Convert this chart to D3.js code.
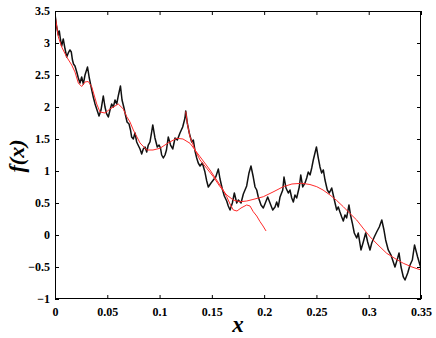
<!DOCTYPE html>
<html><head><meta charset="utf-8">
<script src="https://cdn.jsdelivr.net/npm/d3@7"></script>
<style>body{margin:0;background:#fff}svg{display:block}
.lbl{font-family:"Liberation Serif","DejaVu Serif",serif;font-weight:bold;fill:#000}</style>
</head><body>
<svg id="c" width="436" height="338"></svg>
<script>
// Black fractal curve f(x)
const blackX = [0,0.0016,0.0032,0.0041,0.0053,0.0064,0.0079,0.0096,0.0112,0.0127,0.0143,0.0156,0.0167,0.0177,0.0191,0.0208,0.0223,0.0239,0.0255,0.0271,0.0287,0.0311,0.0328,0.0351,0.0366,0.0383,0.0405,0.0421,0.0440,0.0462,0.0478,0.0494,0.0510,0.0526,0.0542,0.0558,0.0574,0.0590,0.0607,0.0626,0.0641,0.0660,0.0674,0.0689,0.0708,0.0722,0.0733,0.0749,0.0765,0.0781,0.0799,0.0813,0.0829,0.0844,0.0861,0.0877,0.0892,0.0908,0.0923,0.0935,0.0956,0.0978,0.0995,0.1009,0.1020,0.1036,0.1052,0.1066,0.1083,0.1105,0.1126,0.1148,0.1170,0.1195,0.1221,0.1243,0.1250,0.1265,0.1284,0.1307,0.1323,0.1339,0.1355,0.1370,0.1387,0.1409,0.1434,0.1451,0.1466,0.1492,0.1514,0.1537,0.1562,0.1578,0.1600,0.1619,0.1642,0.1657,0.1674,0.1696,0.1715,0.1738,0.1753,0.1779,0.1801,0.1817,0.1833,0.1855,0.1874,0.1896,0.1913,0.1929,0.1944,0.1970,0.1992,0.2015,0.2034,0.2056,0.2082,0.2104,0.2120,0.2135,0.2152,0.2178,0.2190,0.2209,0.2231,0.2247,0.2264,0.2279,0.2295,0.2311,0.2336,0.2350,0.2369,0.2391,0.2407,0.2422,0.2439,0.2455,0.2470,0.2486,0.2500,0.2518,0.2534,0.2550,0.2566,0.2582,0.2604,0.2623,0.2646,0.2661,0.2678,0.2694,0.2709,0.2725,0.2742,0.2757,0.2773,0.2789,0.2811,0.2826,0.2843,0.2862,0.2885,0.2900,0.2926,0.2948,0.2971,0.2990,0.3012,0.3029,0.3053,0.3076,0.3101,0.3125,0.3146,0.3162,0.3187,0.3213,0.3235,0.3251,0.3277,0.3290,0.3309,0.3331,0.3347,0.3373,0.3395,0.3417,0.3438,0.3468,0.3490,0.3500];
const blackY = [3.45,3.25,3.125,3.188,3.047,2.953,3.063,2.906,2.781,2.844,2.891,2.859,2.734,2.672,2.641,2.547,2.453,2.375,2.469,2.359,2.5,2.625,2.453,2.266,2.156,2.047,1.938,1.859,1.953,2.172,2.0,1.891,1.844,1.953,2.047,2.0,2.109,2.047,2.188,2.328,2.109,1.984,1.875,1.766,1.734,1.641,1.531,1.5,1.594,1.453,1.391,1.344,1.266,1.344,1.375,1.297,1.406,1.453,1.594,1.719,1.516,1.375,1.406,1.359,1.25,1.203,1.25,1.328,1.531,1.406,1.344,1.516,1.484,1.594,1.688,1.828,1.938,1.75,1.594,1.453,1.484,1.313,1.203,1.125,1.078,1.125,0.984,0.844,0.75,0.813,0.859,0.906,1.031,0.875,0.719,0.609,0.531,0.453,0.391,0.5,0.656,0.5,0.547,0.5,0.641,0.703,0.766,0.969,1.078,0.906,0.75,0.703,0.594,0.469,0.422,0.516,0.594,0.5,0.391,0.438,0.516,0.438,0.594,0.703,0.906,0.734,0.656,0.703,0.578,0.516,0.625,0.578,0.75,0.938,0.75,0.813,0.891,0.984,0.938,1.047,1.172,1.281,1.375,1.203,1.063,0.969,1.016,0.859,0.703,0.656,0.734,0.625,0.5,0.391,0.438,0.359,0.281,0.219,0.313,0.266,0.469,0.313,0.188,0.031,-0.047,0.031,-0.234,-0.109,0.031,-0.109,-0.234,-0.125,-0.031,0.047,0.125,0.234,0.078,-0.078,-0.234,-0.313,-0.422,-0.5,-0.359,-0.281,-0.5,-0.656,-0.703,-0.594,-0.469,-0.391,-0.156,-0.344,-0.469,-0.516];

// Red smooth approximation 1 (from x = 0)
const red1X = [0,0.0032,0.0064,0.0112,0.0160,0.0191,0.0223,0.0255,0.0287,0.0318,0.0351,0.0399,0.0430,0.0478,0.0526,0.0574,0.0605,0.0653,0.0686,0.0717,0.0749,0.0813,0.0877,0.0937,0.1004,0.1081,0.1164,0.1224,0.1291,0.1387,0.1482,0.1546,0.1597,0.1642,0.1674,0.1705,0.1740,0.1779,0.1833,0.1865,0.1896,0.1929,0.1961,0.1989,0.2018];
const red1Y = [3.44,3.094,2.938,2.781,2.656,2.547,2.375,2.320,2.391,2.398,2.317,2.047,1.922,1.906,1.969,2.016,2.047,1.969,1.848,1.766,1.641,1.438,1.328,1.328,1.355,1.438,1.511,1.5,1.433,1.223,1.016,0.859,0.734,0.598,0.484,0.391,0.375,0.422,0.469,0.453,0.364,0.297,0.208,0.141,0.063];

// Red smooth approximation 2 (from x = 0.125)
const red2X = [0.125,0.1265,0.1291,0.1339,0.1387,0.1451,0.1514,0.1578,0.1642,0.1705,0.1769,0.1833,0.1893,0.1992,0.2085,0.2183,0.2266,0.2359,0.2438,0.2503,0.2563,0.2630,0.2694,0.2757,0.2821,0.2885,0.2945,0.3012,0.3089,0.3172,0.3251,0.3331,0.3414,0.35];
const red2Y = [1.93,1.745,1.536,1.328,1.172,1.042,0.911,0.755,0.625,0.547,0.520,0.531,0.555,0.598,0.672,0.755,0.797,0.808,0.789,0.755,0.703,0.625,0.539,0.442,0.336,0.234,0.109,-0.027,-0.156,-0.286,-0.367,-0.442,-0.5,-0.547];

const xTicks = [0,0.05,0.1,0.15,0.2,0.25,0.3,0.35];
const xTickLabels = ["0","0.05","0.1","0.15","0.2","0.25","0.3","0.35"];
const yTicks = [-1,-0.5,0,0.5,1,1.5,2,2.5,3,3.5];
const yTickLabels = ["\u22121","\u22120.5","0","0.5","1","1.5","2","2.5","3","3.5"];

const L = 55, R = 421, T = 11, B = 299;
const svg = d3.select("#c");
const x = d3.scaleLinear().domain([0,0.35]).range([L,R]);
const y = d3.scaleLinear().domain([-1,3.5]).range([B,T]);

svg.append("clipPath").attr("id","cp").append("rect")
  .attr("x",L).attr("y",T).attr("width",R-L).attr("height",B-T);

const line = d3.line().x(d=>x(d[0])).y(d=>y(d[1]));
const zip = (a,b)=>a.map((v,i)=>[v,b[i]]);

const plot = svg.append("g").attr("clip-path","url(#cp)");
plot.append("path").attr("d", line(zip(blackX,blackY)))
  .attr("fill","none").attr("stroke","#111").attr("stroke-width",1.5).attr("stroke-linejoin","round");
plot.append("path").attr("d", line(zip(red1X,red1Y)))
  .attr("fill","none").attr("stroke","#ff2a2a").attr("stroke-width",1);
plot.append("path").attr("d", line(zip(red2X,red2Y)))
  .attr("fill","none").attr("stroke","#ff2a2a").attr("stroke-width",1);

// axes (inward ticks on all sides)
const tl = 4;
const xb = svg.append("g").attr("transform",`translate(0,${B})`)
  .call(d3.axisBottom(x).tickValues(xTicks).tickSize(-tl).tickPadding(6)
    .tickFormat((d,i)=>xTickLabels[i]));
const xt = svg.append("g").attr("transform",`translate(0,${T})`)
  .call(d3.axisTop(x).tickValues(xTicks).tickSize(-tl).tickFormat(""));
const yl = svg.append("g").attr("transform",`translate(${L},0)`)
  .call(d3.axisLeft(y).tickValues(yTicks).tickSize(-tl).tickPadding(5)
    .tickFormat((d,i)=>yTickLabels[i]));
const yr = svg.append("g").attr("transform",`translate(${R},0)`)
  .call(d3.axisRight(y).tickValues(yTicks).tickSize(-tl).tickFormat(""));
[xb,xt,yl,yr].forEach(a=>{
  a.attr("font-family",null).attr("font-size",null);
  a.select(".domain").remove();
  a.selectAll("line").attr("stroke","#000").attr("stroke-width",1);
  a.selectAll("text").attr("class","lbl").style("font-size","12px");
});
xb.selectAll("text").attr("dy","0.95em");
svg.append("rect").attr("x",L+0.5).attr("y",T+0.5).attr("width",R-L-1).attr("height",B-T-1)
  .attr("fill","none").attr("stroke","#000").attr("stroke-width",1);

svg.append("text").attr("class","lbl").attr("x",(L+R)/2).attr("y",332).attr("text-anchor","middle")
  .style("font-style","italic").style("font-size","23px").text("x");
svg.append("text").attr("class","lbl").attr("transform","translate(24,156) rotate(-90)").attr("text-anchor","middle")
  .style("font-style","italic").style("font-size","22px").text("f(x)");
</script>
</body></html>
